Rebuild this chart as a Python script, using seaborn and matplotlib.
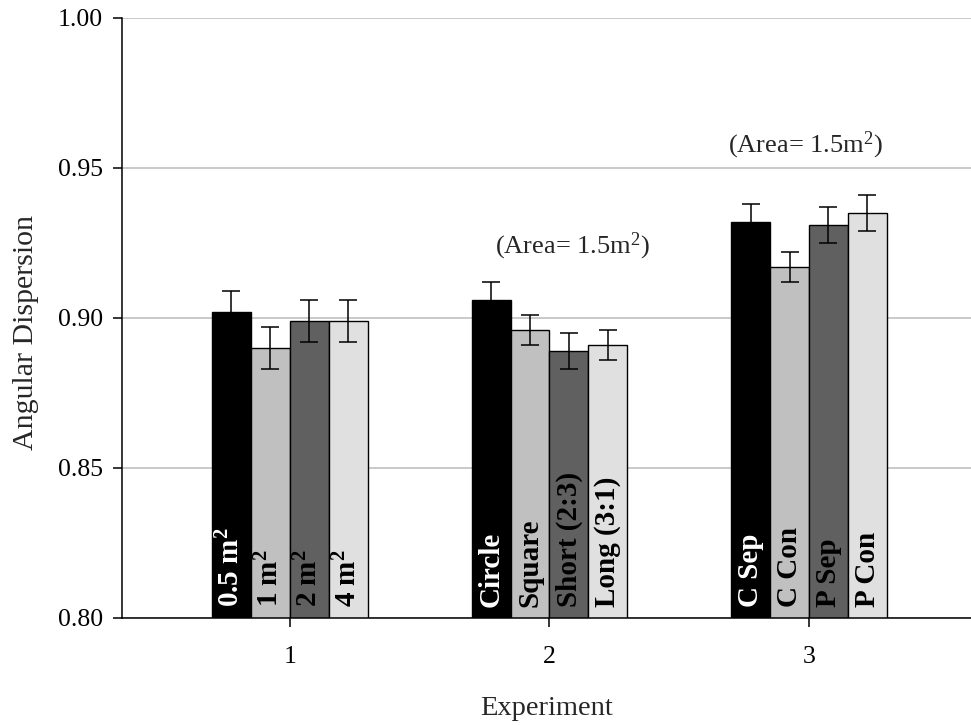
import matplotlib
matplotlib.use("Agg")
import matplotlib.pyplot as plt
import seaborn as sns
import pandas as pd
import numpy as np

# ---- data ----
experiments = ["1", "2", "3"]
conditions = ["c1", "c2", "c3", "c4"]
values_exp1 = [0.902, 0.890, 0.899, 0.899]
values_exp2 = [0.906, 0.896, 0.889, 0.891]
values_exp3 = [0.932, 0.917, 0.931, 0.935]
errors_exp1 = [0.007, 0.007, 0.007, 0.007]
errors_exp2 = [0.006, 0.005, 0.006, 0.005]
errors_exp3 = [0.006, 0.005, 0.006, 0.006]
labels_exp1 = [r"0.5 m$^\mathbf{2}$", r"1 m$^\mathbf{2}$", r"2 m$^\mathbf{2}$", r"4 m$^\mathbf{2}$"]
labels_exp2 = ["Circle", "Square", "Short (2:3)", "Long (3:1)"]
labels_exp3 = ["C Sep", "C Con", "P Sep", "P Con"]
bar_colors = ["#000000", "#c0c0c0", "#606060", "#e0e0e0"]
text_colors = ["white", "black", "black", "black"]
annotation_text = r"(Area= 1.5m$^2$)"

values = [values_exp1, values_exp2, values_exp3]
errors = [errors_exp1, errors_exp2, errors_exp3]
labels = [labels_exp1, labels_exp2, labels_exp3]

rows = []
for e, vals, errs, labs in zip(experiments, values, errors, labels):
    for c, v, er, lb in zip(conditions, vals, errs, labs):
        rows.append({"Experiment": e, "cond": c, "value": v, "err": er, "label": lb})
df = pd.DataFrame(rows)

# ---- style ----
sns.set_style("white")
plt.rcParams["font.family"] = ["Liberation Serif", "DejaVu Serif"]
plt.rcParams["mathtext.fontset"] = "custom"
plt.rcParams["mathtext.rm"] = "Liberation Serif"
plt.rcParams["mathtext.bf"] = "Liberation Serif:bold"
plt.rcParams["mathtext.it"] = "Liberation Serif:italic"

fig = plt.figure(figsize=(9.71, 7.25), dpi=100)
ax = fig.add_axes([0.1256, 0.1476, 0.8744, 0.8276])

sns.barplot(data=df, x="Experiment", y="value", hue="cond", order=experiments,
            hue_order=conditions, palette=bar_colors, width=0.6, errorbar=None,
            edgecolor="black", linewidth=1.0, legend=False, saturation=1, ax=ax)

# bars sorted by center position -> match flattened data order
patches = sorted([p for p in ax.patches if p.get_width() > 0],
                 key=lambda p: p.get_x() + p.get_width() / 2)
centers = [p.get_x() + p.get_width() / 2 for p in patches]

ax.errorbar(centers, df["value"], yerr=df["err"], fmt="none", ecolor="black",
            elinewidth=1.1, capsize=6.5, capthick=1.1, zorder=5)

for i, (cx, lb) in enumerate(zip(centers, df["label"])):
    ax.text(cx, 0.8035, lb, rotation=90, ha="center", va="bottom",
            fontsize=21, fontweight="bold", color=text_colors[i % 4], zorder=6)

ax.text(1.087, 0.9240, annotation_text, ha="center", va="center", fontsize=19)
ax.text(1.985, 0.9575, annotation_text, ha="center", va="center", fontsize=19)

ax.set_ylim(0.80, 1.00)
ax.set_xlim(-0.647, 2.624)
ax.set_yticks([0.80, 0.85, 0.90, 0.95, 1.00])
ax.set_yticklabels(["0.80", "0.85", "0.90", "0.95", "1.00"])
ax.yaxis.grid(True, color="#c0c0c0", linewidth=1.2)
ax.set_axisbelow(True)

for s in ["top", "right"]:
    ax.spines[s].set_visible(False)
for s in ["left", "bottom"]:
    ax.spines[s].set_color("black")
    ax.spines[s].set_linewidth(1.1)

ax.tick_params(axis="both", direction="out", length=6.5, width=1.1, colors="black",
               labelsize=18.5, left=True, bottom=True)
ax.tick_params(axis="y", pad=7)
ax.tick_params(axis="x", pad=14)

ax.set_xlabel("Experiment", fontsize=20.5, labelpad=20)
ax.set_ylabel("Angular Dispersion", fontsize=21.5, labelpad=14, y=0.475)

fig.savefig("out.png", dpi=100)
